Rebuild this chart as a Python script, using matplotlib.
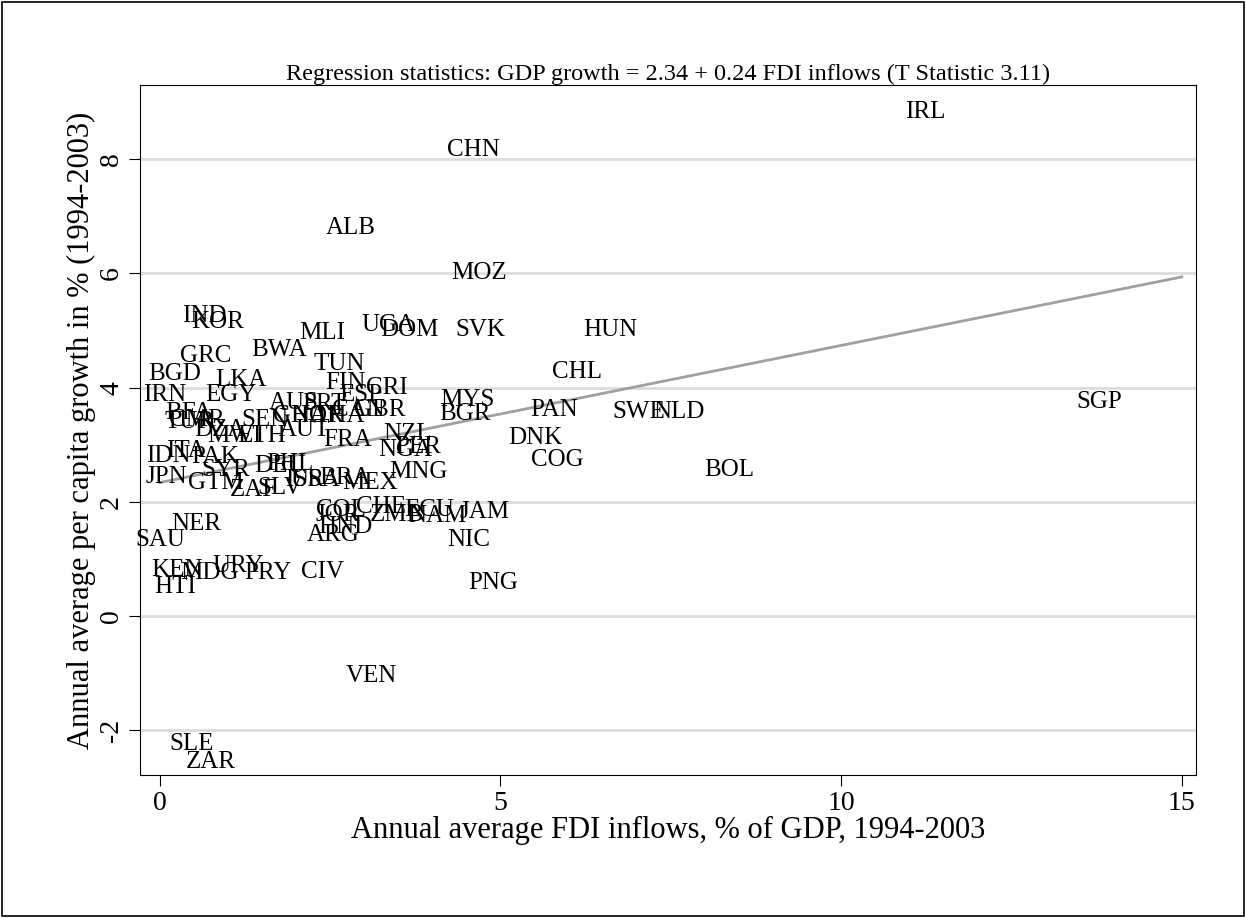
import matplotlib.pyplot as plt
import numpy as np

plt.rcParams['font.family'] = ['Liberation Serif', 'DejaVu Serif']

countries = ['IRL', 'CHN', 'ALB', 'MOZ', 'IND', 'KOR', 'UGA', 'DOM', 'SVK', 'HUN',
             'MLI', 'BWA', 'GRC', 'TUN', 'BGD', 'CHL', 'LKA', 'FIN', 'CRI', 'ESP',
             'IRN', 'EGY', 'MYS', 'SGP', 'AUS', 'PRT', 'CAN', 'GBR', 'PAN', 'SWE',
             'NLD', 'BFA', 'BGR', 'GHA', 'NOR', 'THA', 'CMR', 'TUR', 'SEN', 'DZA',
             'MWI', 'ETH', 'AUT', 'NZL', 'FRA', 'DNK', 'NGA', 'PER', 'ITA', 'PAK',
             'IDN', 'COG', 'PHL', 'DEU', 'MNG', 'BOL', 'JPN', 'SYR', 'GTM', 'ISR',
             'USA', 'BRA', 'MEX', 'ZAF', 'SLV', 'COL', 'JOR', 'CHE', 'ZMB', 'ECU',
             'NAM', 'JAM', 'NER', 'HND', 'ARG', 'NIC', 'SAU', 'URY', 'KEN', 'MDG',
             'PRY', 'CIV', 'HTI', 'PNG', 'VEN', 'SLE', 'ZAR']
fdi = [11.23, 4.61, 2.80, 4.68, 0.66, 0.85, 3.35, 3.66, 4.70, 6.62,
       2.38, 1.75, 0.68, 2.63, 0.22, 6.12, 1.19, 2.73, 3.33, 2.95,
       0.07, 1.04, 4.51, 13.79, 1.97, 2.42, 2.91, 3.23, 5.79, 7.03,
       7.62, 0.43, 4.48, 2.06, 2.32, 2.64, 0.55, 0.44, 1.55, 0.88,
       1.10, 1.50, 2.13, 3.64, 2.76, 5.52, 3.60, 3.79, 0.38, 0.81,
       0.12, 5.83, 1.91, 1.76, 3.79, 8.36, 0.10, 0.97, 0.82, 2.13,
       2.28, 2.72, 3.08, 1.37, 1.76, 2.66, 2.61, 3.25, 3.48, 3.96,
       4.07, 4.77, 0.54, 2.72, 2.54, 4.54, 0.01, 1.15, 0.25, 0.73,
       1.59, 2.39, 0.22, 4.90, 3.11, 0.47, 0.75]
growth = [8.83, 8.16, 6.80, 6.00, 5.25, 5.15, 5.10, 5.01, 5.01, 5.01,
          4.96, 4.66, 4.55, 4.41, 4.24, 4.27, 4.13, 4.08, 3.99, 3.87,
          3.87, 3.87, 3.78, 3.75, 3.73, 3.71, 3.61, 3.61, 3.61, 3.57,
          3.57, 3.56, 3.54, 3.50, 3.50, 3.50, 3.43, 3.40, 3.43, 3.26,
          3.15, 3.15, 3.26, 3.19, 3.08, 3.12, 2.91, 2.96, 2.89, 2.79,
          2.80, 2.73, 2.66, 2.63, 2.52, 2.56, 2.43, 2.56, 2.33, 2.38,
          2.38, 2.42, 2.33, 2.21, 2.24, 1.86, 1.77, 1.91, 1.77, 1.86,
          1.75, 1.82, 1.61, 1.56, 1.42, 1.33, 1.33, 0.88, 0.81, 0.76,
          0.76, 0.77, 0.51, 0.58, -1.05, -2.24, -2.56]

intercept = 2.34
slope = 0.24

fig = plt.figure(figsize=(12.46, 9.18), dpi=100)
fig.patches.append(plt.Rectangle((0.002, 0.002), 0.996, 0.996, transform=fig.transFigure,
                                 fill=False, edgecolor='black', linewidth=1.2))
ax = fig.add_axes([140 / 1246, 1 - 775 / 918, (1196 - 140) / 1246, (775 - 85) / 918])

for c, x, y in zip(countries, fdi, growth):
    ax.text(x, y, c, fontsize=18, ha='center', va='center')

xs = np.array([0, 15])
ax.plot(xs, intercept + slope * xs, color='#a0a0a0', linewidth=2)

ax.set_xlim(-0.29, 15.21)
ax.set_ylim(-2.78, 9.30)
ax.set_xticks([0, 5, 10, 15])
ax.set_yticks([-2, 0, 2, 4, 6, 8])
ax.set_yticklabels(['-2', '0', '2', '4', '6', '8'], rotation=90, va='center')
ax.tick_params(labelsize=20, length=8)
ax.grid(axis='y', color='#dcdcdc', linewidth=2)
ax.set_axisbelow(True)
ax.set_xlabel('Annual average FDI inflows, % of GDP, 1994-2003', fontsize=22, labelpad=0)
ax.set_ylabel('Annual average per capita growth in % (1994-2003)', fontsize=22, labelpad=2)
ax.set_title('Regression statistics: GDP growth = 2.34 + 0.24 FDI inflows (T Statistic 3.11)',
             fontsize=17.5, pad=3)

plt.savefig('out.png')
